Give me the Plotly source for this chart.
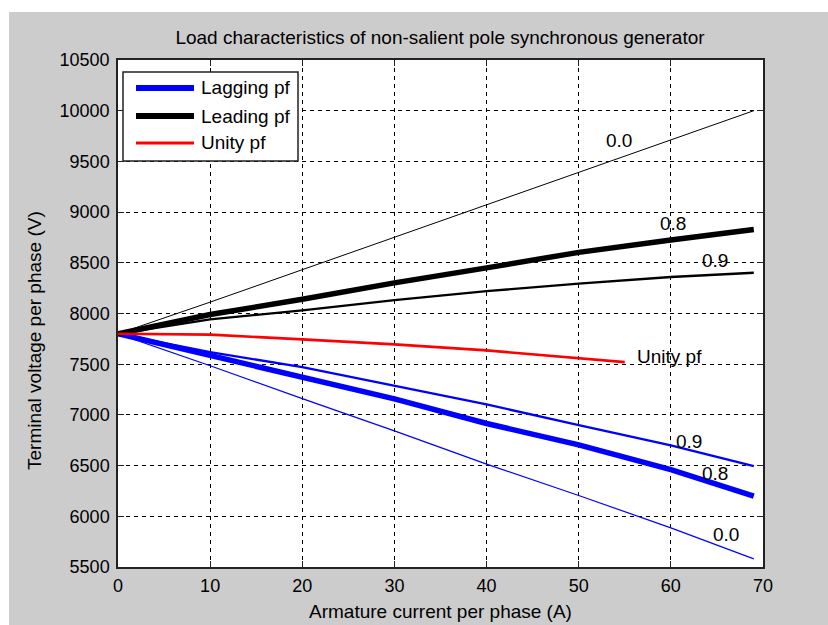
import plotly.graph_objects as go

# Armature current per phase (A)
current = [0, 10, 20, 30, 40, 50, 60, 69]
current_unity = [0, 10, 20, 30, 40, 50, 55]

# Terminal voltage per phase (V)
lag_00 = [7800, 7485, 7160, 6842, 6515, 6205, 5886, 5580]
lag_08 = [7800, 7583, 7380, 7158, 6915, 6705, 6460, 6200]
lag_09 = [7800, 7620, 7470, 7290, 7104, 6898, 6700, 6494]
lead_00 = [7800, 8112, 8432, 8752, 9074, 9395, 9714, 10000]
lead_08 = [7800, 7990, 8140, 8302, 8450, 8603, 8725, 8828]
lead_09 = [7800, 7942, 8030, 8132, 8220, 8295, 8360, 8402]
unity = [7800, 7792, 7745, 7696, 7636, 7556, 7520]

# Axis ticks
x_ticks = [0, 10, 20, 30, 40, 50, 60, 70]
y_ticks = [5500, 6000, 6500, 7000, 7500, 8000, 8500, 9000, 9500, 10000, 10500]

# Curve labels: (text, current, voltage)
curve_labels = [
    ("0.0", 54.4, 9710),
    ("0.8", 60.2, 8884),
    ("0.9", 64.8, 8524),
    ("Unity pf", 59.9, 7572),
    ("0.9", 62.0, 6734),
    ("0.8", 64.8, 6418),
    ("0.0", 66.0, 5819),
]

legend_entries = [("Lagging pf", "#0000ff", 6), ("Leading pf", "#000000", 6), ("Unity pf", "#ff0000", 3)]

FONT = "Liberation Sans, Arial, sans-serif"
TXT = 19
W, H = 828, 625
L, R, T, B = 118, 65, 60, 58
PW, PH = W - L - R, H - T - B


def px_x(px):
    return (px - L) / PW


def px_y(py):
    return (H - B - py) / PH


fig = go.Figure()

series = [
    (current, lag_08, "#0000ff", 5.5),
    (current, lag_09, "#0000ff", 2.3),
    (current, lag_00, "#0000ff", 1.2),
    (current, lead_08, "#000000", 5.5),
    (current, lead_09, "#000000", 2.3),
    (current, lead_00, "#000000", 1.0),
    (current_unity, unity, "#ff0000", 2.6),
]
for xs, ys, col, w in series:
    fig.add_trace(go.Scatter(x=xs, y=ys, mode="lines", showlegend=False,
                             line=dict(color=col, width=w), hoverinfo="skip"))

annotations = []
for txt, xv, yv in curve_labels:
    annotations.append(dict(x=xv, y=yv, xref="x", yref="y", text=txt, showarrow=False,
                            xanchor="center", yanchor="middle",
                            font=dict(family=FONT, size=TXT, color="#000")))

# Axis titles
annotations.append(dict(x=px_x(440), y=px_y(611), xref="paper", yref="paper", showarrow=False,
                        xanchor="center", yanchor="middle",
                        text="Armature current per phase (A)",
                        font=dict(family=FONT, size=TXT, color="#000")))
annotations.append(dict(x=px_x(35), y=px_y(340), xref="paper", yref="paper", showarrow=False,
                        xanchor="center", yanchor="middle",
                        text="Terminal voltage per phase (V)", textangle=-90,
                        font=dict(family=FONT, size=TXT, color="#000")))

# Legend box drawn with shapes and text
shapes = [
    dict(type="rect", xref="paper", yref="paper", x0=px_x(123), x1=px_x(298),
         y0=px_y(161), y1=px_y(72), fillcolor="white", line=dict(color="#222", width=1.5),
         layer="above"),
]
rows = [88, 116, 143]
for (name, col, w), ry in zip(legend_entries, rows):
    shapes.append(dict(type="line", xref="paper", yref="paper", x0=px_x(136), x1=px_x(194),
                       y0=px_y(ry), y1=px_y(ry), line=dict(color=col, width=w), layer="above"))
    annotations.append(dict(x=px_x(199), y=px_y(ry), xref="paper", yref="paper", text=name,
                            showarrow=False, xanchor="left", yanchor="middle",
                            font=dict(family=FONT, size=TXT, color="#000")))

# White strips along the top and left edges of the figure
shapes.append(dict(type="rect", xref="paper", yref="paper", x0=px_x(0), x1=px_x(W),
                   y0=px_y(12), y1=px_y(0), fillcolor="white", line=dict(width=0), layer="above"))
shapes.append(dict(type="rect", xref="paper", yref="paper", x0=px_x(0), x1=px_x(9),
                   y0=px_y(H), y1=px_y(0), fillcolor="white", line=dict(width=0), layer="above"))

axis_common = dict(
    showline=True, linecolor="#222", linewidth=1.5, mirror="ticks",
    ticks="inside", ticklen=6, tickcolor="#222", tickwidth=1.2,
    showgrid=True, gridcolor="#000", gridwidth=1.2, griddash="4px,4px",
    zeroline=False, tickfont=dict(family=FONT, size=18, color="#000"),
)

fig.update_layout(
    width=W, height=H,
    margin=dict(l=L, r=R, t=T, b=B),
    paper_bgcolor="#cccccc", plot_bgcolor="white",
    title=dict(text="Load characteristics of non-salient pole synchronous generator",
               x=px_x(440), xref="paper", xanchor="center", y=1 - 37 / H, yanchor="middle",
               font=dict(family=FONT, size=TXT, color="#000")),
    xaxis=dict(range=[0, 70], tickvals=x_ticks, ticktext=[str(v) for v in x_ticks],
               ticklabelstandoff=2, **axis_common),
    yaxis=dict(range=[5500, 10500], tickvals=y_ticks, ticktext=[str(v) for v in y_ticks],
               ticklabelstandoff=3, **axis_common),
    annotations=annotations,
    shapes=shapes,
    showlegend=False,
)

fig.write_html("out.html")
